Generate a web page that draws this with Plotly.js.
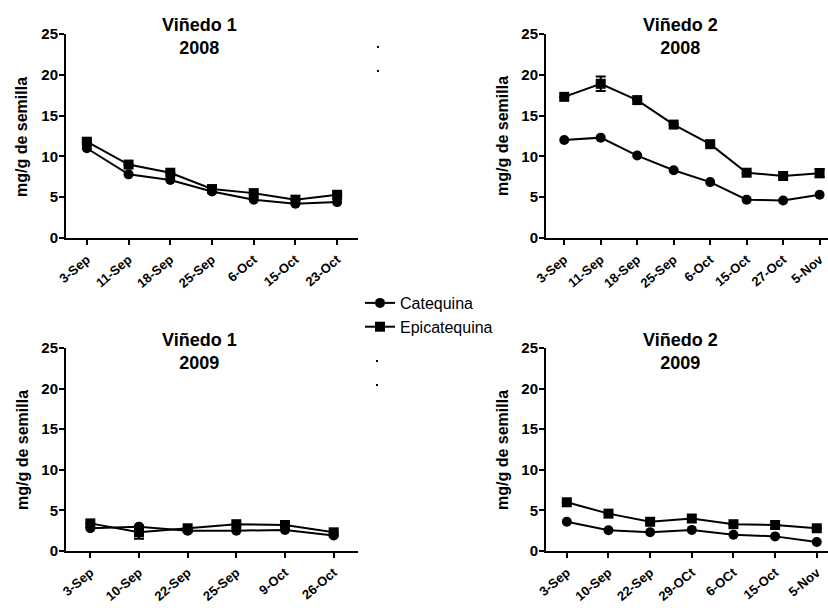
<!DOCTYPE html>
<html>
<head>
<meta charset="utf-8">
<script src="https://cdn.plot.ly/plotly-3.0.1.min.js"></script>
<style>html,body{margin:0;padding:0;background:#fff;}#chart{width:828px;height:608px;}</style>
</head>
<body>
<div id="chart"></div>
<script>
// Panel 1: Viñedo 1 2008
const dates_v1_2008 = ["3-Sep","11-Sep","18-Sep","25-Sep","6-Oct","15-Oct","23-Oct"];
const cat_v1_2008 = [11.0, 7.8, 7.1, 5.7, 4.7, 4.2, 4.4];
const epi_v1_2008 = [11.8, 9.0, 8.0, 6.0, 5.5, 4.7, 5.3];
const epiErr_v1_2008 = [0, 0, 0, 0, 0, 0, 0];

// Panel 2: Viñedo 2 2008
const dates_v2_2008 = ["3-Sep","11-Sep","18-Sep","25-Sep","6-Oct","15-Oct","27-Oct","5-Nov"];
const cat_v2_2008 = [12.0, 12.3, 10.1, 8.3, 6.85, 4.7, 4.6, 5.3];
const epi_v2_2008 = [17.3, 18.9, 16.9, 13.9, 11.5, 8.0, 7.6, 7.95];
const epiErr_v2_2008 = [0, 0.9, 0, 0, 0, 0, 0, 0.5];

// Panel 3: Viñedo 1 2009
const dates_v1_2009 = ["3-Sep","10-Sep","22-Sep","25-Sep","9-Oct","26-Oct"];
const cat_v1_2009 = [2.8, 3.0, 2.5, 2.5, 2.6, 1.9];
const epi_v1_2009 = [3.4, 2.3, 2.8, 3.3, 3.2, 2.3];
const epiErr_v1_2009 = [0, 0.8, 0, 0, 0, 0];

// Panel 4: Viñedo 2 2009
const dates_v2_2009 = ["3-Sep","10-Sep","22-Sep","29-OCt","6-OCt","15-Oct","5-Nov"];
const cat_v2_2009 = [3.6, 2.55, 2.3, 2.6, 2.0, 1.8, 1.1];
const epi_v2_2009 = [6.0, 4.6, 3.6, 4.0, 3.3, 3.2, 2.8];
const epiErr_v2_2009 = [0, 0, 0, 0, 0, 0, 0];

const seriesNames = ["Catequina", "Epicatequina"];
const panelTitles = ["<b>Viñedo 1</b><br><b>2008</b>", "<b>Viñedo 2</b><br><b>2008</b>",
                     "<b>Viñedo 1</b><br><b>2009</b>", "<b>Viñedo 2</b><br><b>2009</b>"];
const yTitle = "<b>mg/g de semilla</b>";
const yTicks = [0, 5, 10, 15, 20, 25];

const FONT = "Arial, 'Liberation Sans', sans-serif";
const W = 828, H = 608;

const panels = [
  {x: dates_v1_2008, c: cat_v1_2008, e: epi_v1_2008, err: epiErr_v1_2008, xa: "x", ya: "y"},
  {x: dates_v2_2008, c: cat_v2_2008, e: epi_v2_2008, err: epiErr_v2_2008, xa: "x2", ya: "y2"},
  {x: dates_v1_2009, c: cat_v1_2009, e: epi_v1_2009, err: epiErr_v1_2009, xa: "x3", ya: "y3"},
  {x: dates_v2_2009, c: cat_v2_2009, e: epi_v2_2009, err: epiErr_v2_2009, xa: "x4", ya: "y4"}
];

const traces = [];
panels.forEach((p, i) => {
  traces.push({
    x: p.x, y: p.c, xaxis: p.xa, yaxis: p.ya, type: "scatter", mode: "lines+markers",
    name: seriesNames[0], legendgroup: "c", showlegend: i === 0,
    line: {color: "#000", width: 2}, marker: {symbol: "circle", size: 10, color: "#000"},
    cliponaxis: false
  });
  traces.push({
    x: p.x, y: p.e, xaxis: p.xa, yaxis: p.ya, type: "scatter", mode: "lines+markers",
    name: seriesNames[1], legendgroup: "e", showlegend: i === 0,
    line: {color: "#000", width: 2}, marker: {symbol: "square", size: 10, color: "#000"},
    error_y: {type: "data", array: p.err, visible: true, color: "#000", thickness: 2, width: 5},
    cliponaxis: false
  });
});

function px2x(px){ return px / W; }
function py2y(py){ return 1 - py / H; }

function xAxis(anchor, domain, n, rightExtra){
  return {
    domain: domain, anchor: anchor, type: "category",
    range: [-0.5, n - 1 + rightExtra],
    showline: true, linecolor: "#000", linewidth: 2,
    ticks: "outside", ticklen: 5, tickwidth: 2, tickcolor: "#000",
    tickangle: -40, showgrid: false, zeroline: false,
    ticklabelstandoff: 2,
    tickfont: {family: FONT, size: 13, color: "#000", weight: "bold"},
    fixedrange: true
  };
}
function yAxis(anchor, domain){
  return {
    domain: domain, anchor: anchor, range: [0, 25],
    tickvals: yTicks, ticktext: yTicks.map(String),
    showline: true, linecolor: "#000", linewidth: 2,
    ticks: "outside", ticklen: 5, tickwidth: 2, tickcolor: "#000",
    showgrid: false, zeroline: false,
    ticklabelstandoff: -2,
    tickfont: {family: FONT, size: 15, color: "#000", weight: "bold"},
    fixedrange: true
  };
}

const topDom = [py2y(238), py2y(34)];
const botDom = [py2y(551), py2y(348)];

const layout = {
  width: W, height: H,
  margin: {l: 0, r: 0, t: 0, b: 0},
  paper_bgcolor: "#fff", plot_bgcolor: "#fff",
  font: {family: FONT, color: "#000"},
  showlegend: true,
  legend: {
    x: px2x(360), y: py2y(286), xanchor: "left", yanchor: "top",
    font: {family: FONT, size: 16, color: "#000"},
    bgcolor: "rgba(0,0,0,0)", borderwidth: 0, tracegroupgap: 0
  },
  xaxis: xAxis("y", [px2x(66), px2x(358)], dates_v1_2008.length, 0.5),
  yaxis: yAxis("x", topDom),
  xaxis2: xAxis("y2", [px2x(546), 1], dates_v2_2008.length, 0.23),
  yaxis2: yAxis("x2", topDom),
  xaxis3: xAxis("y3", [px2x(66), px2x(358)], dates_v1_2009.length, 0.5),
  yaxis3: yAxis("x3", botDom),
  xaxis4: xAxis("y4", [px2x(546), 1], dates_v2_2009.length, 0.27),
  yaxis4: yAxis("x4", botDom),
  annotations: [
    {text: panelTitles[0], x: px2x(199), y: py2y(37)},
    {text: panelTitles[1], x: px2x(680), y: py2y(37)},
    {text: panelTitles[2], x: px2x(199), y: py2y(351)},
    {text: panelTitles[3], x: px2x(680), y: py2y(351)}
  ].map(a => Object.assign(a, {xref: "paper", yref: "paper", xanchor: "center", yanchor: "middle",
      showarrow: false, font: {family: FONT, size: 18, color: "#000"}})).concat([
    {text: yTitle, x: px2x(22), y: py2y(137)},
    {text: yTitle, x: px2x(502), y: py2y(136)},
    {text: yTitle, x: px2x(22), y: py2y(450)},
    {text: yTitle, x: px2x(502), y: py2y(450)}
  ].map(a => Object.assign(a, {xref: "paper", yref: "paper", xanchor: "center", yanchor: "middle",
      textangle: -90, showarrow: false, font: {family: FONT, size: 16, color: "#000"}}))),
  shapes: [[378,47],[378,71],[377,361],[377,385]].map(p => ({
    type: "rect", xref: "paper", yref: "paper",
    x0: px2x(p[0]-1), x1: px2x(p[0]+1), y0: py2y(p[1]+1), y1: py2y(p[1]-1),
    fillcolor: "#000", line: {width: 0}
  }))
};

Plotly.newPlot("chart", traces, layout, {staticPlot: true, displayModeBar: false});
</script>
</body>
</html>
